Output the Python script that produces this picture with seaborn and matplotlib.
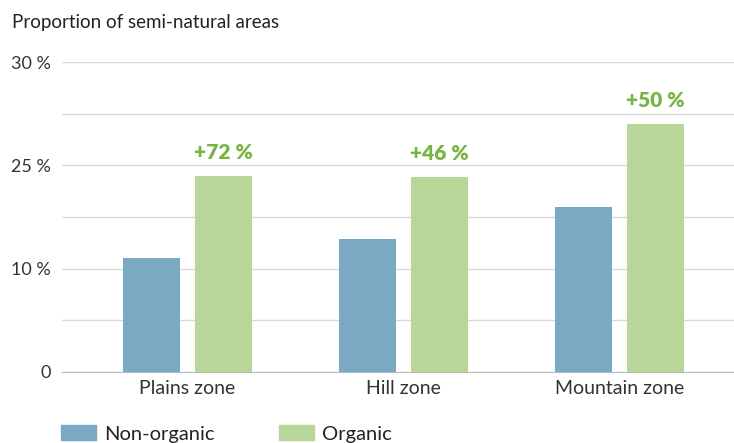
import pandas as pd
import numpy as np
import matplotlib.pyplot as plt
import seaborn as sns

zones = ['Plains zone', 'Hill zone', 'Mountain zone']
non_organic = [11.0, 12.9, 16.0]
organic = [19.0, 18.9, 24.0]
increase = ['+72 %', '+46 %', '+50 %']
ytick_vals = [0, 10, 20, 30]
ytick_labels = ['0', '10 %', '25 %', '30 %']

df = pd.DataFrame({
    'zone': zones * 2,
    'share': non_organic + organic,
    'type': ['Non-organic'] * 3 + ['Organic'] * 3,
})

sns.set_style('white')
plt.rcParams['font.family'] = ['Lato', 'DejaVu Sans']

fig = plt.figure(figsize=(7.34, 4.43), dpi=100)
ax = fig.add_axes([0.0845, 0.1603, 0.9155, 0.6997])

ax = sns.barplot(data=df, x='zone', y='share', hue='type', ax=ax,
                 palette=['#79a9c3', '#b8d698'], width=0.667, gap=0.21,
                 saturation=1, legend=False, linewidth=0, zorder=3)

ax.set_ylim(0, 30)
ax.set_xlim(-0.58, 2.53)
ax.set_yticks(np.arange(0, 31, 5), minor=True)
ax.set_yticks(ytick_vals)
ax.set_yticklabels(ytick_labels)
ax.grid(axis='y', which='both', color='#d9d9d9', lw=1, zorder=0)
ax.tick_params(axis='both', which='both', length=0, colors='#333333')
ax.tick_params(axis='y', pad=8, labelsize=13)
ax.tick_params(axis='x', pad=6, labelsize=14)
ax.set_xlabel('')
ax.set_ylabel('')
for s in ['top', 'right', 'left']:
    ax.spines[s].set_visible(False)
ax.spines['bottom'].set_color('#bbbbbb')

org_bars = ax.containers[1]
for bar, txt in zip(org_bars, increase):
    ax.annotate(txt, (bar.get_x() + bar.get_width() / 2, bar.get_height()),
                xytext=(0, 10), textcoords='offset points', ha='center', va='bottom',
                color='#77b543', fontsize=15, fontweight='heavy')

fig.text(0.016, 0.95, 'Proportion of semi-natural areas', fontsize=13.5,
         color='#222222', va='center')

handles = [plt.Rectangle((0, 0), 1, 1, color='#79a9c3'),
           plt.Rectangle((0, 0), 1, 1, color='#b8d698')]
fig.legend(handles, ['Non-organic', 'Organic'], loc='center left',
           bbox_to_anchor=(0.083, 0.02), ncol=2, frameon=False, fontsize=14.5,
           handlelength=1.75, handleheight=0.75, handletextpad=0.4,
           columnspacing=3.2, labelcolor='#222222', borderaxespad=0,
           borderpad=0)

fig.savefig('out.png', dpi=100)
